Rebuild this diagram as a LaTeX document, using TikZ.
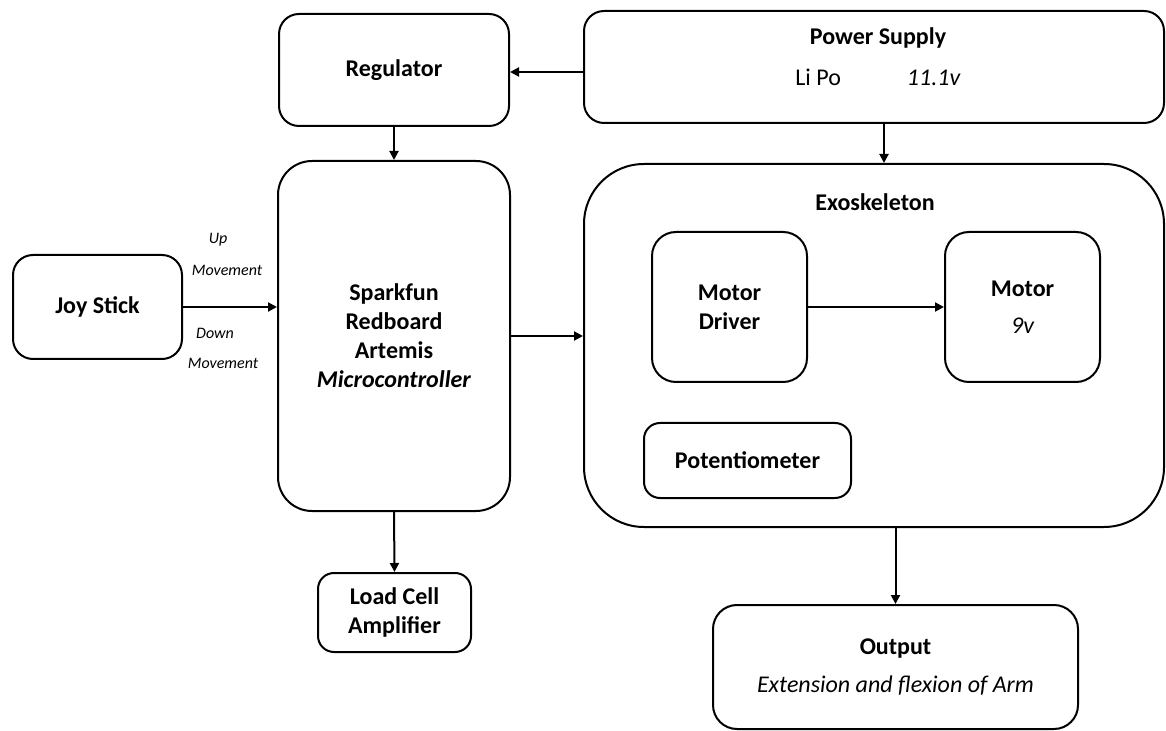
\documentclass[tikz,border=0pt]{standalone}
\usepackage{fontspec}
\setmainfont{Carlito}
\usetikzlibrary{arrows.meta}

\tikzset{
	box/.style={draw,line width=1pt,rounded corners=#1,align=center,
		inner sep=0pt,font=\fontsize{12}{14.5}\selectfont\bfseries},
	box/.default=10pt,
	arr/.style={-{Triangle[length=4.5pt,width=4.5pt]},line width=1pt},
	move/.style={font=\fontsize{8}{9}\selectfont\itshape},
	head/.style={font=\fontsize{12}{14.5}\selectfont\bfseries}
}

\begin{document}
\begin{tikzpicture}[x=0.5pt,y=-0.5pt]
\useasboundingbox (0,0) rectangle (1166,731);

% top row
\node[box,minimum width=115pt,minimum height=56pt] (reg) at (394,70) {Regulator};
\node[box,minimum width=290pt,minimum height=56pt] (ps) at (874,67) {};
\node[head] (pstitle) at (878,38) {Power Supply};
\node[font=\fontsize{12}{14.5}\selectfont] (psbat) at (878,77) {Li Po\hspace{33pt}\textit{11.1v}};

% controller
\node[box=17pt,minimum width=116pt,minimum height=175pt] (mcu) at (394,336)
	{Sparkfun\\Redboard\\Artemis\\\textit{Microcontroller}};
\node[box,minimum width=84.5pt,minimum height=52pt] (joy) at (97.5,307) {Joy Stick};
\node[box=8pt,minimum width=76.5pt,minimum height=39.5pt] (lca) at (394.5,612.5)
	{Load Cell\\Amplifier};

% exoskeleton
\node[box=30pt,minimum width=290pt,minimum height=181.5pt] (exo) at (874,345.5) {};
\node[head] (exotitle) at (875,202) {Exoskeleton};
\node[box=12pt,minimum width=77.5pt,minimum height=75pt] (drv) at (729.5,307)
	{Motor\\Driver};
\node[box=12pt,minimum width=77.5pt,minimum height=75pt] (mot) at (1022.5,307)
	{Motor\\[4pt]\mdseries\itshape 9v};
\node[box=8pt,minimum width=103.5pt,minimum height=37.5pt] (pot) at (747.5,460.5)
	{Potentiometer};

\node[box=12pt,minimum width=182.5pt,minimum height=62pt] (out) at (895.5,667)
	{Output\\[4.5pt]\mdseries\itshape Extension and flexion of Arm};

% joystick labels
\node[move] (up) at (218,240) {Up};
\node[move] (upm) at (227,270) {Movement};
\node[move] (down) at (215,333) {Down};
\node[move] (downm) at (223,363) {Movement};

% connections
\draw[arr] ([yshift=-2.5pt]ps.west) -- ([yshift=-2.5pt]ps.west -| reg.east);
\draw[arr] (reg.south) -- (mcu.north);
\draw[arr] ([xshift=5pt]ps.south) -- ([xshift=5pt]exo.north);
\draw[arr] (joy.east) -- (joy.east -| mcu.west);
\draw[arr] (mcu.east) -- (mcu.east -| exo.west);
\draw[arr] (drv.east) -- (drv.east -| mot.west);
\draw[arr] (mcu.south) -- (lca.north);
\draw[arr] (out.north |- exo.south) -- (out.north);

\end{tikzpicture}
\end{document}
